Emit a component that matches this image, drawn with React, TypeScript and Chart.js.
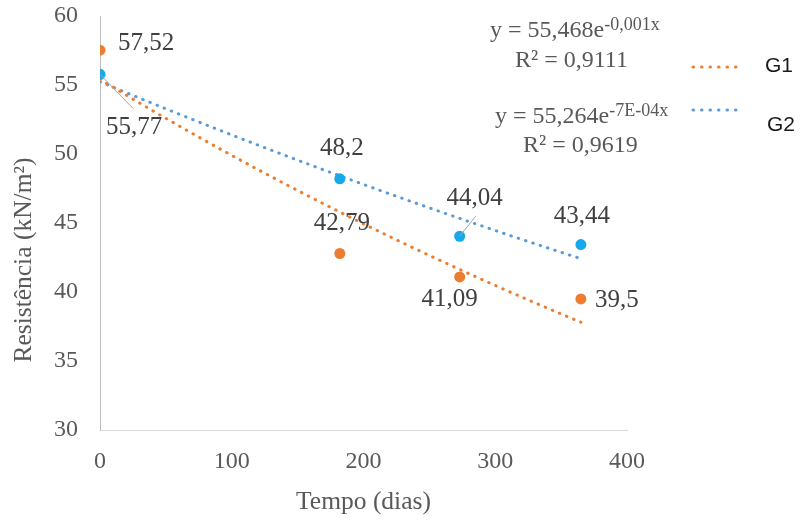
import React, { useEffect, useRef } from "react";
import { Chart, registerables } from "chart.js";

Chart.register(...registerables);

// ---- data ----
const days = [0, 182, 273, 365];
const g1Values = [57.52, 42.79, 41.09, 39.5];
const g2Values = [55.77, 48.2, 44.04, 43.44];
const seriesNames = ["G1", "G2"];
const xTicks = [0, 100, 200, 300, 400];
const yTicks = [30, 35, 40, 45, 50, 55, 60];
const g1Equation = ["y = 55,468e", "-0,001x", "R² = 0,9111"];
const g2Equation = ["y = 55,264e", "-7E-04x", "R² = 0,9619"];
const xTitle = "Tempo (dias)";
const yTitle = "Resistência (kN/m²)";

// ---- styles ----
const ORANGE = "#ED7D31";
const BLUE_PT = "#17A8EA";
const BLUE_TR = "#5B9BD5";
const TEXT = "#595959";
const LABEL = "#404040";
const SERIF = "'Liberation Serif', 'Times New Roman', serif";
const SANS = "'Liberation Sans', Arial, sans-serif";

// exponential least-squares fit (Excel "exponential trendline")
function expFit(xs: number[], ys: number[]) {
  const n = xs.length;
  const ls = ys.map((v) => Math.log(v));
  const mx = xs.reduce((s, v) => s + v, 0) / n;
  const ml = ls.reduce((s, v) => s + v, 0) / n;
  let sxy = 0;
  let sxx = 0;
  for (let i = 0; i < n; i++) {
    sxy += (xs[i] - mx) * (ls[i] - ml);
    sxx += (xs[i] - mx) * (xs[i] - mx);
  }
  const b = sxy / sxx;
  const a = Math.exp(ml - b * mx);
  return { a, b };
}

function trendPoints(xs: number[], ys: number[]) {
  const { a, b } = expFit(xs, ys);
  const pts: { x: number; y: number }[] = [];
  const x0 = xs[0];
  const x1 = xs[xs.length - 1];
  for (let x = x0; x < x1; x += 5) pts.push({ x, y: a * Math.exp(b * x) });
  pts.push({ x: x1, y: a * Math.exp(b * x1) });
  return pts;
}

const fmt = (v: number) => String(v).replace(".", ",");

// label placement (offset from point centre), alignment, leader line end
const labelPlacement: Record<string, { dx: number; dy: number; align: CanvasTextAlign; leader?: [number, number] }[]> = {
  G1: [
    { dx: 18, dy: -7, align: "left" },
    { dx: 2, dy: -30, align: "center" },
    { dx: -10, dy: 22, align: "center" },
    { dx: 14, dy: 2, align: "left" },
  ],
  G2: [
    { dx: 34, dy: 53, align: "center", leader: [33, 34] },
    { dx: 2, dy: -30, align: "center" },
    { dx: 15, dy: -38, align: "center", leader: [16, -20] },
    { dx: 1, dy: -28, align: "center" },
  ],
};

const dataLabelPlugin = {
  id: "dataLabels",
  afterDatasetsDraw(chart: any) {
    const ctx = chart.ctx;
    ctx.save();
    chart.data.datasets.forEach((ds: any, di: number) => {
      if (ds.kind !== "points") return;
      const meta = chart.getDatasetMeta(di);
      const place = labelPlacement[ds.label];
      meta.data.forEach((el: any, i: number) => {
        const p = place[i];
        const v = ds.data[i].y;
        if (p.leader) {
          ctx.strokeStyle = "#A6A6A6";
          ctx.lineWidth = 1;
          ctx.beginPath();
          ctx.moveTo(el.x, el.y);
          ctx.lineTo(el.x + p.leader[0], el.y + p.leader[1]);
          ctx.stroke();
        }
        ctx.fillStyle = LABEL;
        ctx.font = `25px ${SERIF}`;
        ctx.textAlign = p.align;
        ctx.textBaseline = "middle";
        ctx.fillText(fmt(v), el.x + p.dx, el.y + p.dy);
      });
    });
    ctx.restore();
  },
};

const annotationPlugin = {
  id: "annotations",
  afterDraw(chart: any) {
    const ctx = chart.ctx;
    ctx.save();
    ctx.fillStyle = TEXT;
    ctx.textBaseline = "middle";
    ctx.textAlign = "left";
    const drawEq = (eq: string[], x: number, y: number, rx: number, ry: number) => {
      ctx.font = `24px ${SERIF}`;
      ctx.fillText(eq[0], x, y);
      const w = ctx.measureText(eq[0]).width;
      ctx.font = `18px ${SERIF}`;
      ctx.fillText(eq[1], x + w, y - 6);
      ctx.font = `24px ${SERIF}`;
      ctx.fillText(eq[2], rx, ry);
    };
    drawEq(g1Equation, 490, 31, 515, 61);
    drawEq(g2Equation, 495, 117, 523, 146);

    // y axis title
    ctx.save();
    ctx.translate(24, 260);
    ctx.rotate(-Math.PI / 2);
    ctx.textAlign = "center";
    ctx.font = `25.5px ${SERIF}`;
    ctx.fillStyle = TEXT;
    ctx.fillText(yTitle, 0, 0);
    ctx.restore();

    // legend
    const trends = chart.data.datasets.filter((d: any) => d.kind === "trend");
    const rows = [
      { sy: 67, ty: 66, tx: 765 },
      { sy: 110, ty: 125, tx: 767 },
    ];
    trends.forEach((d: any, i: number) => {
      const r = rows[i];
      ctx.strokeStyle = d.borderColor;
      ctx.lineWidth = 3;
      ctx.lineCap = "round";
      ctx.setLineDash([0.5, 8]);
      ctx.beginPath();
      ctx.moveTo(693, r.sy);
      ctx.lineTo(736, r.sy);
      ctx.stroke();
      ctx.setLineDash([]);
      ctx.fillStyle = "#1a1a1a";
      ctx.font = `21px ${SANS}`;
      ctx.textAlign = "left";
      ctx.fillText(d.label, r.tx, r.ty);
    });
    ctx.restore();
  },
};

export default function App() {
  const ref = useRef<HTMLCanvasElement | null>(null);

  useEffect(() => {
    document.body.style.margin = "0";
    const canvas = ref.current;
    if (!canvas) return;
    const g1 = days.map((x, i) => ({ x, y: g1Values[i] }));
    const g2 = days.map((x, i) => ({ x, y: g2Values[i] }));
    const dotted = {
      type: "line" as const,
      pointRadius: 0,
      borderWidth: 3,
      borderCapStyle: "round" as const,
      borderDash: [0.5, 7.2],
      showLine: true,
      fill: false,
      tension: 0,
      order: 2,
    };
    const chart = new Chart(canvas, {
      type: "scatter",
      data: {
        datasets: [
          { ...dotted, label: seriesNames[0], kind: "trend", data: trendPoints(days, g1Values), borderColor: ORANGE, backgroundColor: ORANGE } as any,
          { ...dotted, label: seriesNames[1], kind: "trend", data: trendPoints(days, g2Values), borderColor: BLUE_TR, backgroundColor: BLUE_TR } as any,
          { label: seriesNames[0], kind: "points", data: g1, pointRadius: 5.5, backgroundColor: ORANGE, borderColor: ORANGE, borderWidth: 0, order: 0 } as any,
          { label: seriesNames[1], kind: "points", data: g2, pointRadius: 5.5, backgroundColor: BLUE_PT, borderColor: BLUE_PT, borderWidth: 0, order: 0 } as any,
        ],
      },
      options: {
        responsive: false,
        animation: false,
        devicePixelRatio: 1,
        layout: { padding: { left: 0, right: 176, top: 16, bottom: 0 } },
        plugins: { legend: { display: false }, tooltip: { enabled: false } },
        scales: {
          x: {
            type: "linear",
            min: xTicks[0],
            max: xTicks[xTicks.length - 1],
            afterBuildTicks: (s: any) => {
              s.ticks = xTicks.map((v) => ({ value: v }));
            },
            afterFit: (s: any) => {
              s.height = 95;
              s.paddingLeft = 0;
              s.paddingRight = 0;
            },
            grid: { display: false, drawTicks: false },
            border: { display: true, color: "#D9D9D9", width: 1 },
            ticks: { padding: 17, color: TEXT, font: { family: SERIF, size: 24 }, maxRotation: 0 },
            title: { display: true, text: xTitle, color: TEXT, font: { family: SERIF, size: 25.5 }, padding: { top: 0, bottom: 7 } },
          },
          y: {
            type: "linear",
            min: yTicks[0],
            max: yTicks[yTicks.length - 1],
            afterBuildTicks: (s: any) => {
              s.ticks = yTicks.map((v) => ({ value: v }));
            },
            afterFit: (s: any) => {
              s.width = 100;
              s.paddingTop = 0;
              s.paddingBottom = 0;
            },
            grid: { display: false, drawTicks: false },
            border: { display: true, color: "#BFBFBF", width: 1 },
            ticks: { padding: 22, color: TEXT, font: { family: SERIF, size: 24 } },
          },
        },
      },
      plugins: [dataLabelPlugin, annotationPlugin],
    });
    return () => chart.destroy();
  }, []);

  return (
    <div style={{ width: 803, height: 525 }}>
      <canvas ref={ref} width={803} height={525} style={{ display: "block" }} />
    </div>
  );
}
